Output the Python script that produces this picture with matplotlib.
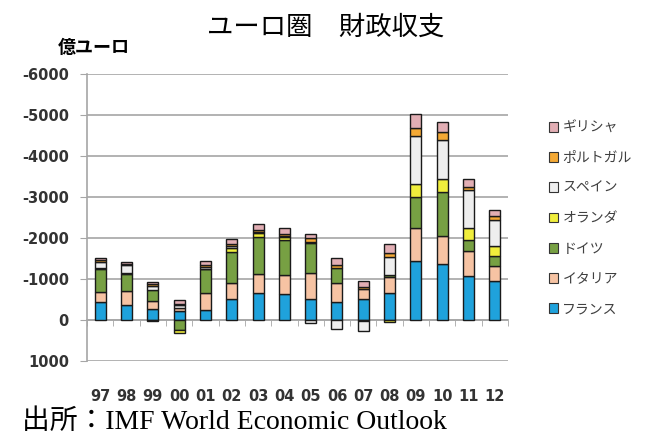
import numpy as np
import matplotlib
matplotlib.use('Agg')
import matplotlib.pyplot as plt
from matplotlib.patches import Patch

plt.rcParams['font.family'] = ['Noto Sans CJK JP', 'DejaVu Sans']

# data (億ユーロ, deficit = negative, surplus = positive)
years = ['97', '98', '99', '00', '01', '02', '03', '04', '05', '06', '07', '08', '09', '10', '11', '12']
countries = ['フランス', 'イタリア', 'ドイツ', 'オランダ', 'スペイン', 'ポルトガル', 'ギリシャ']

france = [-430, -366, -260, -220, -244, -510, -650, -626, -520, -431, -504, -650, -1435, -1362, -1065, -959]
italy = [-261, -341, -203, -65, -406, -400, -472, -472, -618, -480, -244, -407, -817, -695, -626, -350]
germany = [-545, -415, -269, 245, -586, -756, -894, -853, -748, -365, 30, -41, -756, -1077, -260, -244]
netherlands = [-40, -30, 30, 65, -10, -97, -98, -82, -15, 0, 0, 40, -309, -309, -301, -260]
spain = [-147, -190, -105, -70, -35, -30, -30, -10, 81, 228, 230, -430, -1171, -959, -919, -618]
portugal = [-37, -36, -45, -45, -60, -55, -60, -60, -90, -75, -60, -98, -187, -187, -73, -97]
greece = [-60, -46, -53, -80, -98, -120, -130, -150, -107, -153, -145, -228, -341, -252, -195, -147]

colors = ['#1fa2dc', '#f6c3a3', '#77a043', '#f0ee3c', '#eeeeee', '#f4a935', '#e2aeb4']

series = [france, italy, germany, netherlands, spain, portugal, greece]

fig = plt.figure(figsize=(6.46, 4.37), dpi=100)
ax = fig.add_axes([87 / 646, 1 - 361 / 437, 421 / 646, 287 / 437])

x = np.arange(len(years))
neg_base = np.zeros(len(years))
pos_base = np.zeros(len(years))
for vals, col in zip(series, colors):
    v = np.array(vals, dtype=float)
    base = np.where(v < 0, neg_base, pos_base)
    ax.bar(x, v, 0.42, bottom=base, color=col, edgecolor='#1a1a1a',
           linewidth=1.0, zorder=3)
    neg_base += np.minimum(v, 0)
    pos_base += np.maximum(v, 0)

ax.set_xlim(-0.5, len(years) - 0.5)
ax.set_ylim(1000, -6000)
ax.set_yticks(np.arange(-6000, 1001, 1000))
ax.set_yticklabels([str(t) for t in range(-6000, 1001, 1000)],
                   fontweight='bold', fontsize=10.5, color='#333333',
                   family='DejaVu Sans')
ax.yaxis.grid(True, color='#a6a6a6', linewidth=1.2, zorder=0)
ax.set_axisbelow(True)

for s in ['top', 'right']:
    ax.spines[s].set_visible(False)
ax.spines['left'].set_color('#a6a6a6')
ax.spines['left'].set_linewidth(1.2)
ax.spines['bottom'].set_position(('data', 0))
ax.spines['bottom'].set_color('#a6a6a6')
ax.spines['bottom'].set_linewidth(1.2)
ax.tick_params(axis='y', length=5, color='#a6a6a6', pad=8)

ax.set_xticks(x)
ax.set_xticklabels(years, fontweight='bold', fontsize=10.5, color='#333333',
                   family='DejaVu Sans')
ax.set_xticks(np.arange(-0.5, len(years), 1), minor=True)
ax.tick_params(axis='x', which='major', length=0, pad=50)
ax.tick_params(axis='x', which='minor', length=4, color='#a6a6a6', direction='out')

handles = [Patch(facecolor=c, edgecolor='#333333', linewidth=0.8, label=n)
           for n, c in zip(countries, colors)][::-1]
fig.legend(handles=handles, loc='upper left', bbox_to_anchor=(536 / 646, 1 - 108 / 437),
           frameon=False, fontsize=10, handlelength=0.7, handleheight=0.7,
           handletextpad=0.3, labelspacing=1.17, labelcolor='#404040')

fig.text(326 / 646, 1 - 27 / 437, 'ユーロ圏　財政収支', ha='center', va='center', fontsize=19)
fig.text(94 / 646, 1 - 47 / 437, '億ユーロ', ha='center', va='center', fontsize=13,
         fontweight='bold')
fig.text(22 / 646, 1 - 422 / 437, '出所：IMF World Economic Outlook', ha='left', va='center',
         fontsize=20, family=['Liberation Serif', 'Noto Sans CJK JP'])

fig.savefig('out.png', dpi=100)
